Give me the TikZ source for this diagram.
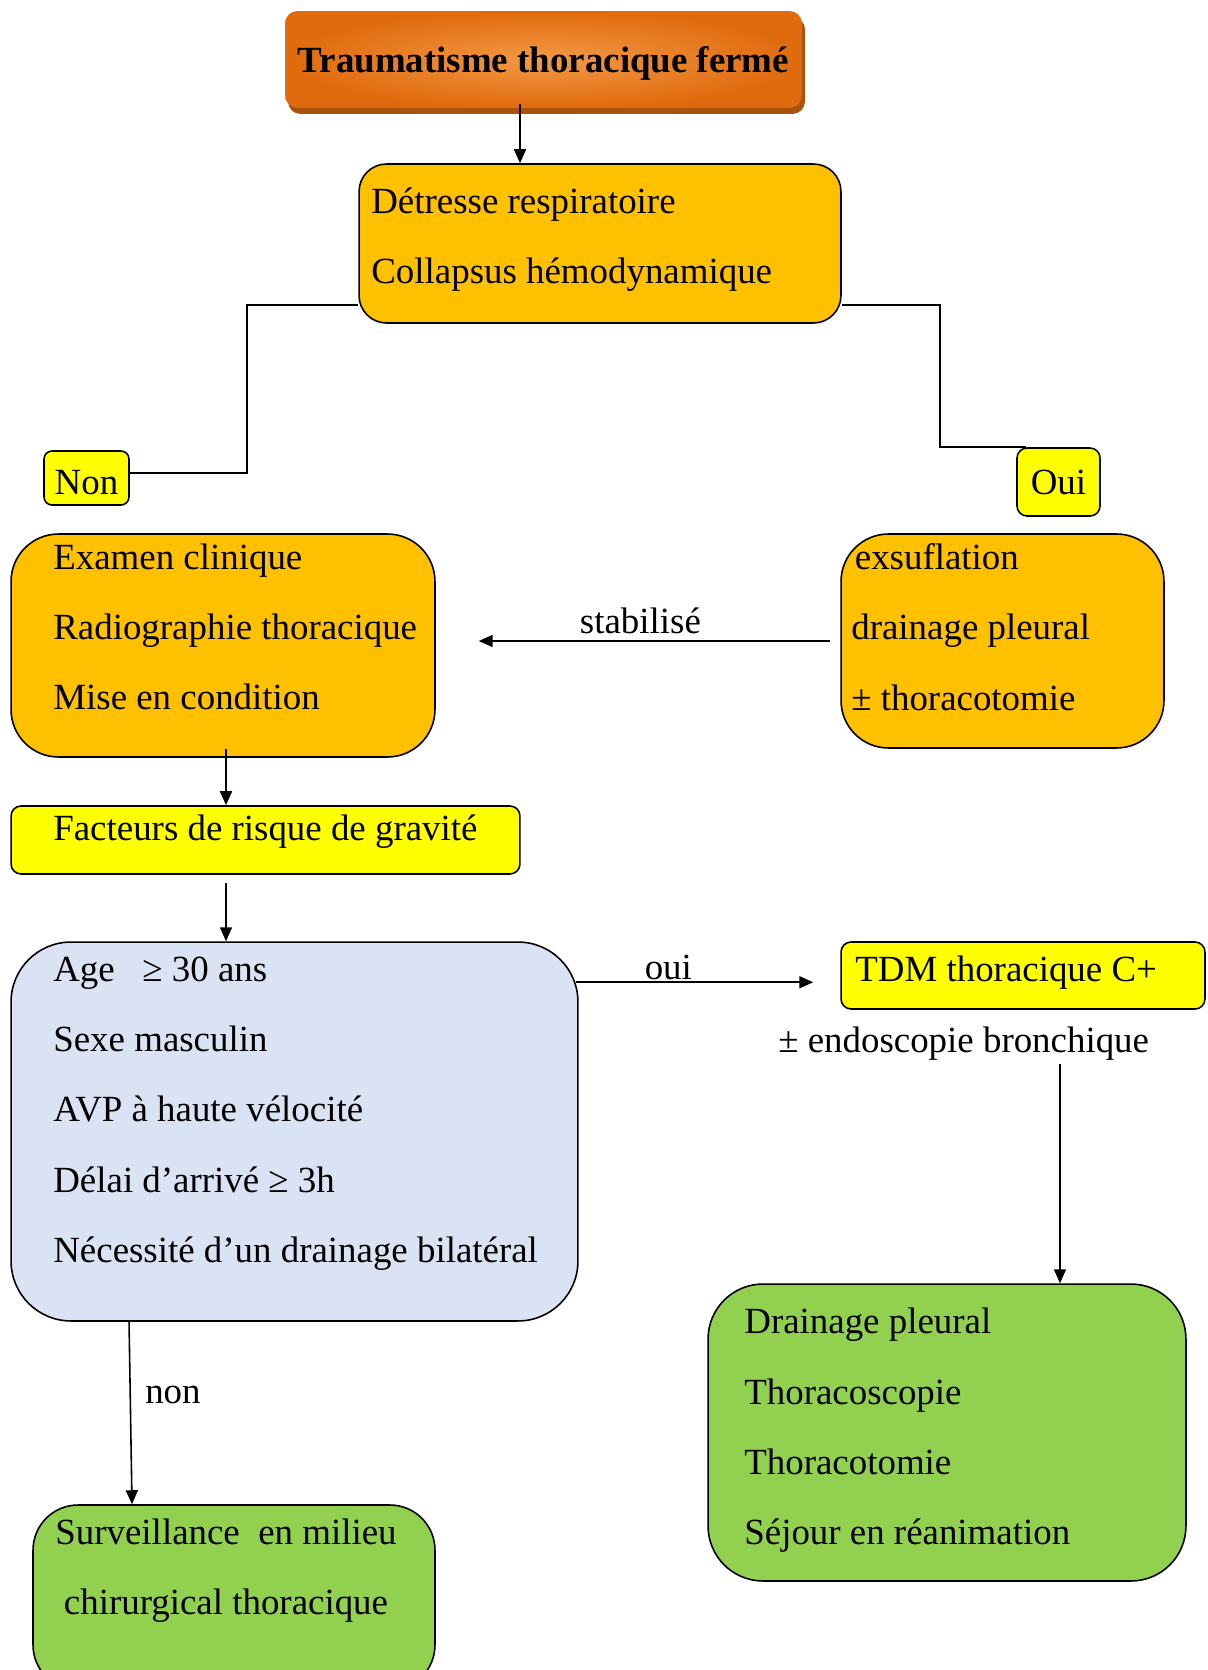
\documentclass[tikz,border=0pt]{standalone}
\usepackage{fontspec}
\setmainfont{Liberation Serif}
\usepackage{tikz}
\usetikzlibrary{arrows.meta,positioning,shadows,calc}
\definecolor{boxorange}{HTML}{FFC000}
\definecolor{boxyellow}{HTML}{FFFF00}
\definecolor{boxgreen}{HTML}{92D050}
\definecolor{boxblue}{HTML}{DAE3F3}
\definecolor{titledark}{HTML}{E06A0E}
\definecolor{titlelight}{HTML}{F39A45}
\definecolor{titleshadow}{HTML}{A9520C}
\tikzset{
  flowbox/.style = {draw=black, line width=0.9pt, rounded corners=#1, inner sep=0pt},
  flowbox/.default = 0.2cm,
  boxtext/.style = {inner sep=0pt, align=left, anchor=west},
  titlebox/.style = {rounded corners=0.25cm, inner color=titlelight, outer color=titledark,
    drop shadow={shadow xshift=0.06cm, shadow yshift=-0.12cm, fill=titleshadow, opacity=1}},
  flowarrow/.style = {-{Triangle[length=0.28cm,width=0.24cm]}, line width=0.9pt},
  flowline/.style = {line width=0.9pt},
  edgelabel/.style = {inner sep=1pt},
}

\begin{document}
\begin{tikzpicture}[x=0.02cm, y=-0.02cm,
  every node/.style={font=\fontsize{21}{40}\selectfont}]
\useasboundingbox (0,0) rectangle (1207,1670);

% Title
\node[titlebox, minimum width=10.34cm, minimum height=1.94cm, text height=19.3pt, text depth=4.6pt] (titre) at (543.5,59.5) {\textbf{Traumatisme thoracique fermé}};

% First question
\node[flowbox=0.55cm, fill=boxorange, minimum width=9.64cm, minimum height=3.18cm] (detresse) at (600,243.5) {};
\node[boxtext] (detresse-t) at (371,239.5) {Détresse respiratoire\\Collapsus hémodynamique};

\node[flowbox=0.16cm, fill=boxyellow, minimum width=1.7cm, minimum height=1.08cm, text height=19pt, text depth=0pt] (non) at (86.5,478) {Non};
\node[flowbox=0.2cm, fill=boxyellow, minimum width=1.66cm, minimum height=1.36cm] (oui) at (1058.5,482) {Oui};

% Non: stable branch
\node[flowbox=0.95cm, fill=boxorange, minimum width=8.48cm, minimum height=4.46cm] (examen) at (223,645.5) {};
\node[boxtext] (examen-t) at (53,627) {Examen clinique\\Radiographie thoracique\\Mise en condition};

% Oui: urgent gestures
\node[flowbox=0.95cm, fill=boxorange, minimum width=6.46cm, minimum height=4.28cm] (exsufl) at (1002.5,641) {};
\node[boxtext] (exsufl-t) at (851,627) {\hspace{2pt}exsuflation\\drainage pleural\\± thoracotomie};

% Risk factors
\node[flowbox, fill=boxyellow, minimum width=10.18cm, minimum height=1.36cm] (facteurs) at (265.5,840) {};
\node[boxtext] (facteurs-t) at (53,832) {Facteurs de risque de gravité};

\node[flowbox=1.2cm, fill=boxblue, minimum width=11.34cm, minimum height=7.58cm] (age) at (294.5,1131.5) {};
\node[boxtext] (age-t) at (53,1113.5) {Age~~~≥ 30 ans\\Sexe masculin\\AVP à haute vélocité\\Délai d’arrivé ≥ 3h\\Nécessité d’un drainage bilatéral};

% Imaging and treatment
\node[flowbox, fill=boxyellow, minimum width=7.28cm, minimum height=1.34cm] (tdm) at (1023,975.5) {};
\node[boxtext] (tdm-t) at (855,973) {TDM thoracique C+};
\node[boxtext] (endo) at (778,1044) {± endoscopie bronchique};

\node[flowbox=1.1cm, fill=boxgreen, minimum width=9.56cm, minimum height=5.94cm] (traitement) at (947,1432.5) {};
\node[boxtext] (traitement-t) at (744,1430.5) {Drainage pleural\\Thoracoscopie\\Thoracotomie\\Séjour en réanimation};

\node[flowbox=0.9cm, fill=boxgreen, minimum width=8.04cm, minimum height=3.7cm] (surv) at (234,1597.5) {};
\node[inner sep=0pt, align=center] (surv-t) at (226,1571) {Surveillance~ en milieu\\chirurgical thoracique};

% Connectors
\draw[flowarrow] ([xshift=-0.47cm, yshift=0.08cm]titre.south) -- ([xshift=-0.47cm]titre.south |- detresse.north);
\draw[flowline] ([yshift=0.38cm]detresse.south west) -- ++(-2.22cm,0) |- ([yshift=0.1cm]non.east);
\draw[flowline] ([yshift=0.38cm]detresse.south east) -- ++(1.96cm,0) |- ([xshift=0.2cm]oui.north west);
\draw[flowarrow] ([xshift=-0.2cm]exsufl.west) -- node[edgelabel, above=0.1cm, pos=0.54] (stab) {stabilisé} ([xshift=0.86cm]examen.east |- exsufl.west);

\coordinate (axe) at ([xshift=0.06cm]examen.south);
\draw[flowarrow] ([yshift=0.18cm]axe) -- (axe |- facteurs.north);
\draw[flowarrow] ([yshift=-0.16cm]axe |- facteurs.south) -- (axe |- age.north);

\coordinate (ouidep) at ([xshift=-0.06cm, yshift=-0.82cm]age.north east);
\draw[flowarrow] (ouidep) -- node[edgelabel, above=0pt, pos=0.39] (ouilab) {oui} ([xshift=-0.54cm]ouidep -| tdm.west);
\draw[flowarrow] ([xshift=2.26cm, yshift=-0.06cm]traitement.north |- endo.south) -- ([xshift=2.26cm]traitement.north);
\draw[flowarrow] ([xshift=-3.31cm]age.south) -- node[edgelabel, right=0.25cm, pos=0.4] (nonlab) {non} ([xshift=-2.04cm]surv.north);

\end{tikzpicture}
\end{document}
